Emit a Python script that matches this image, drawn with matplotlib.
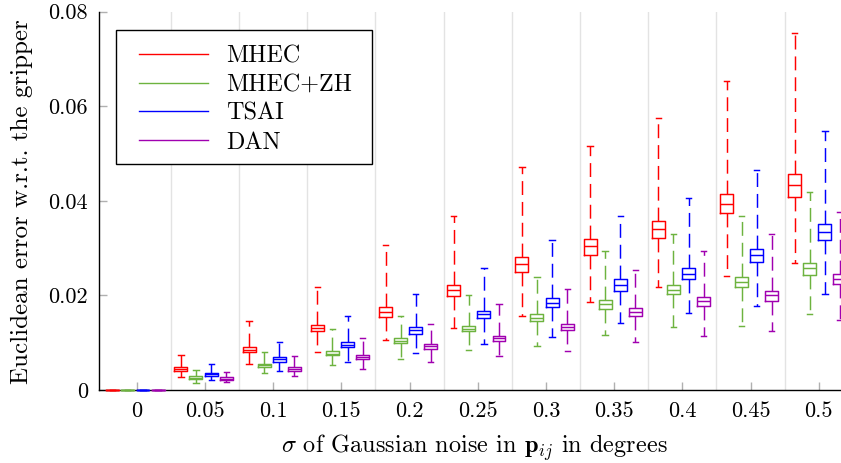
import numpy as np
import matplotlib
matplotlib.use('Agg')
import matplotlib.pyplot as plt
from matplotlib.lines import Line2D
from matplotlib.patches import Rectangle

matplotlib.rcParams['font.family'] = 'serif'
matplotlib.rcParams['font.serif'] = ['cmr10', 'DejaVu Serif']
matplotlib.rcParams['mathtext.fontset'] = 'cm'
matplotlib.rcParams['axes.formatter.use_mathtext'] = True
matplotlib.rcParams['lines.scale_dashes'] = False

# x kategorie (sigma v stupnich)
sigma = ['0', '0.05', '0.1', '0.15', '0.2', '0.25', '0.3', '0.35', '0.4', '0.45', '0.5']
ytick_vals = [0, 0.02, 0.04, 0.06, 0.08]
ytick_labels = ['0', '0.02', '0.04', '0.06', '0.08']

# (dolni vous, q1, median, q3, horni vous) pro kazdou sigmu
mhec = [(0, 0, 0, 0, 0),
        (0.0028, 0.0041, 0.0045, 0.0049, 0.0075),
        (0.0054, 0.0080, 0.0085, 0.0090, 0.0145),
        (0.0081, 0.0124, 0.0132, 0.0138, 0.0217),
        (0.0105, 0.0154, 0.0164, 0.0175, 0.0306),
        (0.0131, 0.0199, 0.0211, 0.0223, 0.0367),
        (0.0157, 0.0250, 0.0267, 0.0282, 0.0471),
        (0.0186, 0.0286, 0.0304, 0.0319, 0.0516),
        (0.0217, 0.0321, 0.0341, 0.0358, 0.0576),
        (0.0241, 0.0374, 0.0394, 0.0414, 0.0653),
        (0.0269, 0.0409, 0.0433, 0.0457, 0.0755)]
mhec_zh = [(0, 0, 0, 0, 0),
           (0.00155, 0.0023, 0.0026, 0.0030, 0.0043),
           (0.0035, 0.0048, 0.0052, 0.0055, 0.0081),
           (0.0052, 0.0073, 0.0077, 0.0082, 0.0130),
           (0.0066, 0.0099, 0.0104, 0.0110, 0.0157),
           (0.0085, 0.0124, 0.0130, 0.0136, 0.0200),
           (0.0093, 0.0145, 0.0152, 0.0160, 0.0239),
           (0.0116, 0.0171, 0.0181, 0.0190, 0.0294),
           (0.0133, 0.0203, 0.0212, 0.0222, 0.0329),
           (0.0136, 0.0217, 0.0229, 0.0240, 0.0368),
           (0.0160, 0.0243, 0.0257, 0.0269, 0.0418)]
tsai = [(0, 0, 0, 0, 0),
        (0.0021, 0.0030, 0.0033, 0.0037, 0.0054),
        (0.0041, 0.0060, 0.0065, 0.0069, 0.0102),
        (0.0059, 0.0091, 0.0096, 0.0102, 0.0157),
        (0.0079, 0.0119, 0.0126, 0.0133, 0.0202),
        (0.0097, 0.0152, 0.0160, 0.0168, 0.0259),
        (0.0113, 0.0176, 0.0185, 0.0195, 0.0317),
        (0.0142, 0.0210, 0.0222, 0.0234, 0.0369),
        (0.0162, 0.0234, 0.0246, 0.0258, 0.0406),
        (0.0178, 0.0271, 0.0285, 0.0299, 0.0466),
        (0.0203, 0.0318, 0.0335, 0.0352, 0.0548)]
dan = [(0, 0, 0, 0, 0),
       (0.0017, 0.0021, 0.0024, 0.0027, 0.0039),
       (0.0030, 0.0041, 0.0045, 0.0049, 0.0071),
       (0.0044, 0.0066, 0.0070, 0.0074, 0.0111),
       (0.0059, 0.0087, 0.0092, 0.0097, 0.0140),
       (0.0071, 0.0103, 0.0109, 0.0115, 0.0181),
       (0.0083, 0.0126, 0.0133, 0.0140, 0.0214),
       (0.0102, 0.0157, 0.0165, 0.0173, 0.0254),
       (0.0114, 0.0178, 0.0188, 0.0196, 0.0293),
       (0.0125, 0.0188, 0.0200, 0.0210, 0.0329),
       (0.0148, 0.0224, 0.0235, 0.0246, 0.0376)]

methods = ['MHEC', 'MHEC+ZH', 'TSAI', 'DAN']
series = [mhec, mhec_zh, tsai, dan]
colors = ['#ff0000', '#6db33f', '#0000ff', '#a000b0']
offsets = [-0.352, -0.132, 0.091, 0.312]

fig = plt.figure(figsize=(8.41, 4.63), dpi=100)
ax = fig.add_axes([99/841, 1-390/463, 742/841, (390-11.7)/463])

#svisla mrizka mezi skupinami
for k in range(1, len(sigma)):
    ax.axvline(k-0.5, color='#e3e3e3', lw=1.0, zorder=0)

lw = 1.05
x = np.arange(len(sigma))
for name, data, col, off in zip(methods, series, colors, offsets):
    stats = [dict(whislo=d[0], q1=d[1], med=d[2], q3=d[3], whishi=d[4], fliers=[]) for d in data]
    art = ax.bxp(stats, positions=x+off, widths=0.19, capwidths=0.078,
                 showfliers=False, manage_ticks=False,
                 boxprops=dict(color=col, lw=lw),
                 medianprops=dict(color=col, lw=lw),
                 whiskerprops=dict(color=col, lw=lw, linestyle=(0, (10, 5))),
                 capprops=dict(color=col, lw=lw))
    for key in art:
        for a in art[key]:
            a.set_clip_on(False)
            a.set_zorder(3)

ax.set_xlim(-0.554, 10.327)
ax.set_ylim(0, 0.08)
ax.set_xticks(x)
ax.set_xticklabels(sigma)
ax.set_yticks(ytick_vals)
ax.set_yticklabels(ytick_labels)
ax.tick_params(axis='both', direction='in', color='#b0b0b0', length=5.5,
               width=1.0, labelsize=16, pad=8)
ax.spines['top'].set_visible(False)
ax.spines['right'].set_visible(False)
ax.spines['left'].set_linewidth(1.0)
ax.spines['bottom'].set_linewidth(1.0)

fig.text(22/841, 1-202/463, 'Euclidean error w.r.t. the gripper', rotation=90,
         ha='center', va='center', fontsize=18)
fig.text(474/841, 1-448/463, r'$\sigma$ of Gaussian noise in $\mathbf{p}_{ij}$ in degrees',
         ha='center', va='center', fontsize=17.5)

#ramecek legendy zvlast
frame = Rectangle((116/841, 1-164/463), (372-116)/841, (164-30)/463,
                  transform=fig.transFigure, facecolor='white', edgecolor='black',
                  lw=1.0, zorder=4, clip_on=False)
ax.add_patch(frame)
handles = [Line2D([], [], color=c, lw=1.0) for c in colors]
leg = ax.legend(handles, methods, loc='upper left', bbox_to_anchor=(139/841, 1-45/463),
                bbox_transform=fig.transFigure, borderaxespad=0, borderpad=0,
                fontsize=17.4, handlelength=2.85, handletextpad=0.74,
                labelspacing=0.28, frameon=False)
leg.set_zorder(5)

fig.savefig('out.png', dpi=100)
